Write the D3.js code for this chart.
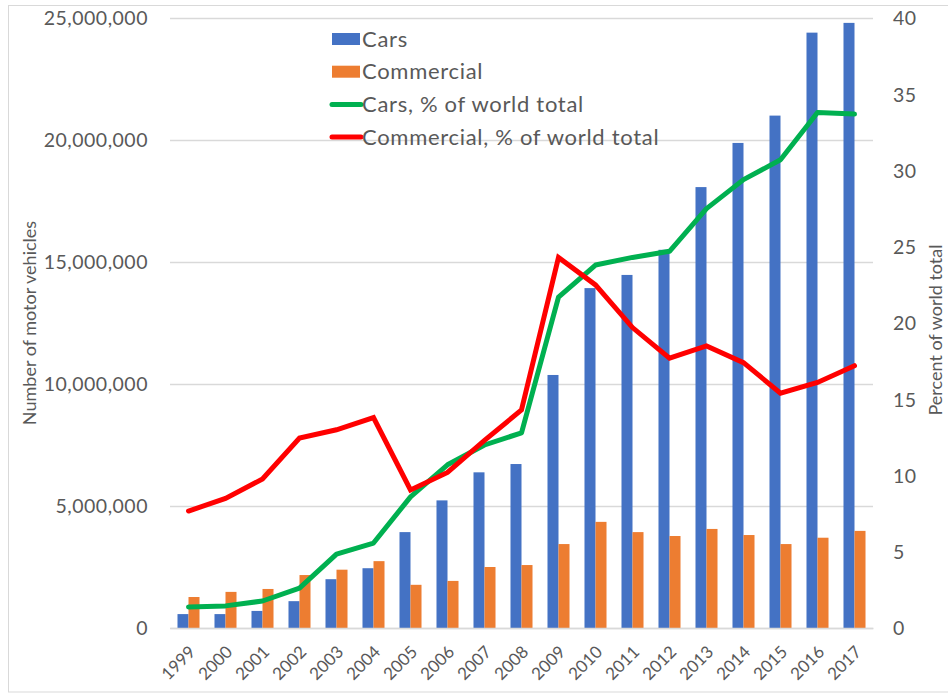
<!DOCTYPE html>
<html>
<head>
<meta charset="utf-8">
<script src="https://cdn.jsdelivr.net/npm/d3@7"></script>
<style>
  html, body { margin: 0; padding: 0; background: #fff; }
  svg { display: block; }
  text { font-family: Lato, "Open Sans", sans-serif; fill: #595959; }
</style>
</head>
<body>
<svg id="chart" width="948" height="694"></svg>
<script>
const years = ["1999","2000","2001","2002","2003","2004","2005","2006","2007","2008","2009","2010","2011","2012","2013","2014","2015","2016","2017"];
const cars = [570000,570000,700000,1100000,2000000,2450000,3930000,5230000,6380000,6720000,10370000,13930000,14470000,15500000,18070000,19880000,21000000,24400000,24800000];
const commercial = [1270000,1480000,1600000,2170000,2390000,2740000,1770000,1930000,2500000,2580000,3440000,4350000,3930000,3770000,4060000,3810000,3440000,3700000,3980000];
const carsPct = [1.38,1.45,1.77,2.62,4.85,5.57,8.6,10.7,12.0,12.8,21.7,23.8,24.3,24.7,27.5,29.4,30.7,33.8,33.7];
const commercialPct = [7.67,8.5,9.77,12.45,13.0,13.8,9.05,10.2,12.3,14.3,24.3,22.5,19.7,17.7,18.5,17.4,15.4,16.1,17.2];
const leftTicks = [0,5000000,10000000,15000000,20000000,25000000];
const rightTicks = [0,5,10,15,20,25,30,35,40];
const seriesNames = ["Cars","Commercial","Cars, % of world total","Commercial, % of world total"];
const colors = { Cars: "#4472C4", Commercial: "#ED7D31", carsPct: "#00B050", commercialPct: "#FF0000" };

const svg = d3.select("#chart");
const pLeft = 170, pRight = 873, pTop = 18, pBottom = 628;

// outer frame
svg.append("rect").attr("x", 8.5).attr("y", 5.5).attr("width", 950).attr("height", 686.5)
  .attr("fill", "none").attr("stroke", "#d9d9d9").attr("stroke-width", 1);

const x = d3.scaleBand().domain(years).range([pLeft, pRight]).paddingInner(0.405).paddingOuter(0.2025);
const xs = d3.scaleBand().domain(["Cars","Commercial"]).range([0, x.bandwidth()]);
const yL = d3.scaleLinear().domain([0, 25000000]).range([pBottom, pTop]);
const yR = d3.scaleLinear().domain([0, 40]).range([pBottom, pTop]);

// gridlines
svg.append("g").selectAll("line").data(leftTicks).join("line")
  .attr("x1", pLeft).attr("x2", pRight)
  .attr("y1", d => Math.round(yL(d)) + 0.5).attr("y2", d => Math.round(yL(d)) + 0.5)
  .attr("stroke", "#d9d9d9").attr("stroke-width", 1.3);

// left axis
const fmt = d3.format(",");
const axL = svg.append("g").attr("transform", `translate(${pLeft - 22},0)`)
  .call(d3.axisLeft(yL).tickValues(leftTicks).tickFormat(fmt).tickSize(0).tickPadding(0));
axL.select(".domain").remove();
axL.selectAll("text").style("font-size", "19.5px").style("letter-spacing", "0.5px")
  .attr("fill", "#595959").attr("dy", "0.35em");

// right axis
const axR = svg.append("g").attr("transform", `translate(${pRight + 20},0)`)
  .call(d3.axisRight(yR).tickValues(rightTicks).tickSize(0).tickPadding(0));
axR.select(".domain").remove();
axR.selectAll("text").style("font-size", "19.5px").style("letter-spacing", "0.5px")
  .attr("fill", "#595959").attr("dy", "0.35em");

// bars
const groups = svg.append("g").selectAll("g").data(years).join("g")
  .attr("transform", d => `translate(${x(d)},0)`);
groups.append("rect")
  .attr("x", xs("Cars")).attr("width", xs.bandwidth())
  .attr("y", (d, i) => yL(cars[i])).attr("height", (d, i) => yL(0) - yL(cars[i]))
  .attr("fill", colors.Cars);
groups.append("rect")
  .attr("x", xs("Commercial")).attr("width", xs.bandwidth())
  .attr("y", (d, i) => yL(commercial[i])).attr("height", (d, i) => yL(0) - yL(commercial[i]))
  .attr("fill", colors.Commercial);

// x axis
const axB = svg.append("g").attr("transform", `translate(0,${pBottom})`)
  .call(d3.axisBottom(x).tickSize(0).tickPadding(0));
axB.select(".domain").attr("stroke", "#d9d9d9").attr("stroke-width", 1.3);
axB.selectAll("text").style("font-size", "17px").attr("fill", "#595959")
  .attr("text-anchor", "end").attr("dy", 0)
  .attr("transform", "translate(8,25) rotate(-45)");

// lines
const cx = d => x(d) + x.bandwidth() / 2;
const lineC = d3.line().x((d, i) => cx(years[i])).y(d => yR(d));
svg.append("path").datum(carsPct).attr("d", lineC).attr("fill", "none")
  .attr("stroke", colors.carsPct).attr("stroke-width", 5).attr("stroke-linejoin", "round").attr("stroke-linecap", "round");
svg.append("path").datum(commercialPct).attr("d", lineC).attr("fill", "none")
  .attr("stroke", colors.commercialPct).attr("stroke-width", 5).attr("stroke-linejoin", "miter").attr("stroke-linecap", "round");

// axis titles
svg.append("text").attr("transform", `translate(36,323) rotate(-90)`)
  .attr("text-anchor", "middle").style("font-size", "18px").text("Number of motor vehicles");
svg.append("text").attr("transform", `translate(942,330) rotate(-90)`)
  .attr("text-anchor", "middle").style("font-size", "18px").text("Percent of world total");

// legend
const leg = svg.append("g").attr("transform", "translate(332,39)");
const rowH = 32.7;
const items = [
  { name: seriesNames[0], type: "rect", color: colors.Cars },
  { name: seriesNames[1], type: "rect", color: colors.Commercial },
  { name: seriesNames[2], type: "line", color: colors.carsPct },
  { name: seriesNames[3], type: "line", color: colors.commercialPct }
];
items.forEach((it, i) => {
  const g = leg.append("g").attr("transform", `translate(0,${i * rowH})`);
  if (it.type === "rect") {
    g.append("rect").attr("x", 0).attr("y", -6).attr("width", 28).attr("height", 12).attr("fill", it.color);
  } else {
    g.append("line").attr("x1", 0).attr("x2", 29).attr("y1", 0).attr("y2", 0)
      .attr("stroke", it.color).attr("stroke-width", 5).attr("stroke-linecap", "round");
  }
  g.append("text").attr("x", 30).attr("y", 0).attr("dy", "0.35em")
    .style("font-size", "22px").style("letter-spacing", "0.7px").text(it.name);
});
</script>
</body>
</html>
